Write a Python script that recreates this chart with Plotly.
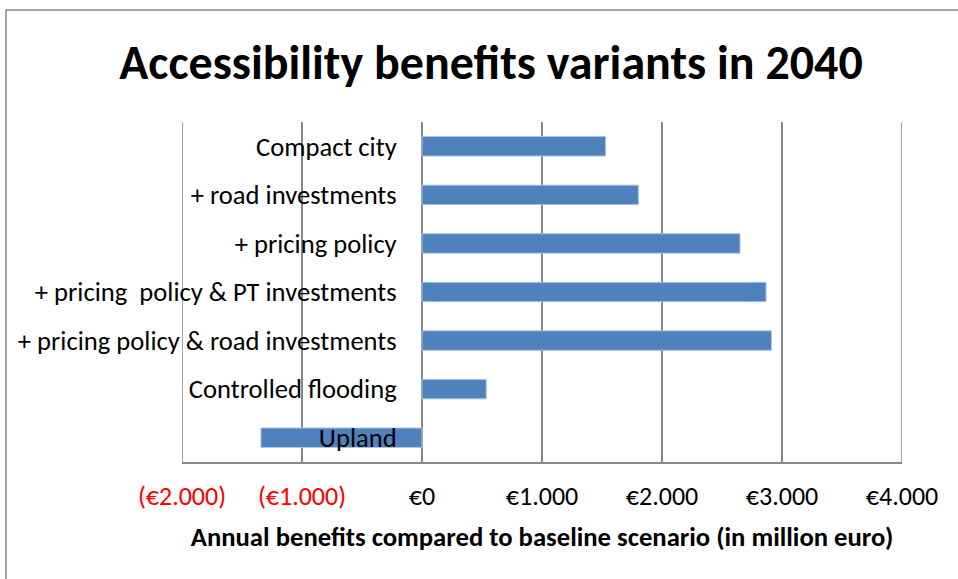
import plotly.graph_objects as go

categories = [
    "Compact city",
    "+ road investments",
    "+ pricing policy",
    "+ pricing\u00a0 policy & PT investments",
    "+ pricing policy & road investments",
    "Controlled flooding",
    "Upland",
]
values = [1530, 1803, 2650, 2867, 2912, 535, -1342]

tick_vals = [-2000, -1000, 0, 1000, 2000, 3000, 4000]
tick_text = ["(€2.000)", "(€1.000)", "€0", "€1.000", "€2.000", "€3.000", "€4.000"]

FONT = "Carlito, Lato, 'Liberation Sans', sans-serif"
GRID = "#888888"

ticktext_html = [
    f'<span style="fill:#ff0000">{t}</span>' if v < 0 else t
    for v, t in zip(tick_vals, tick_text)
]

fig = go.Figure()
fig.add_trace(go.Bar(
    y=categories,
    x=values,
    orientation="h",
    width=0.4,
    marker=dict(color="#4F81BD", line=dict(color="#a9c2e0", width=1)),
    hoverinfo="skip",
))

W, H = 958, 579
L, R, T, B = 182, 56, 122, 117
pw, ph = W - L - R, H - T - B

def px_to_paper_x(px):
    return (px - L) / pw

def px_to_paper_y(py):
    return (H - B - py) / ph

edge_lines = [
    dict(type="line", xref="x", yref="paper", x0=v, x1=v, y0=0, y1=1,
         line=dict(color=GRID, width=1.5), layer="below")
    for v in (tick_vals[0], tick_vals[-1])
]

fig.update_layout(
    width=W, height=H,
    margin=dict(l=L, r=R, t=T, b=B, pad=0, autoexpand=False),
    paper_bgcolor="white",
    plot_bgcolor="white",
    showlegend=False,
    font=dict(family=FONT, color="black", size=26.6),
    title=dict(
        text="<b>Accessibility benefits variants in 2040</b>",
        x=491 / W, xref="container", xanchor="center",
        y=1 - 62 / H, yref="container", yanchor="middle",
        font=dict(family=FONT, size=48, color="black"),
    ),
    xaxis=dict(
        range=[-2000, 4000],
        automargin=False,
        tickvals=tick_vals,
        ticktext=ticktext_html,
        showgrid=True, gridcolor=GRID, gridwidth=1.5,
        zeroline=True, zerolinecolor=GRID, zerolinewidth=1.5,
        showline=True, linecolor=GRID, linewidth=1.5,
        ticks="outside", ticklen=10, tickcolor="rgba(0,0,0,0)",
        tickfont=dict(family=FONT, size=26, color="black"),
        title=dict(
            text="<b>Annual benefits compared to baseline scenario (in million euro)</b>",
            font=dict(family=FONT, size=26.7, color="black"),
            standoff=16,
        ),
        fixedrange=True,
    ),
    yaxis=dict(
        autorange="reversed",
        automargin=False,
        anchor="free",
        position=px_to_paper_x(422),
        showgrid=False, zeroline=False, showline=False,
        ticks="outside", ticklen=20, tickcolor="rgba(0,0,0,0)",
        tickfont=dict(family=FONT, size=26.6, color="black"),
        fixedrange=True,
    ),
    shapes=[
        dict(
            type="rect", xref="paper", yref="paper",
            x0=px_to_paper_x(6), x1=px_to_paper_x(1000),
            y0=px_to_paper_y(10), y1=px_to_paper_y(620),
            line=dict(color=GRID, width=1.5),
            fillcolor="rgba(0,0,0,0)", layer="below",
        )
    ] + edge_lines,
)

fig.write_html(
    "out.html",
    config={"displayModeBar": False},
    post_script="document.body.style.margin='0px';document.body.style.overflow='hidden';",
)
